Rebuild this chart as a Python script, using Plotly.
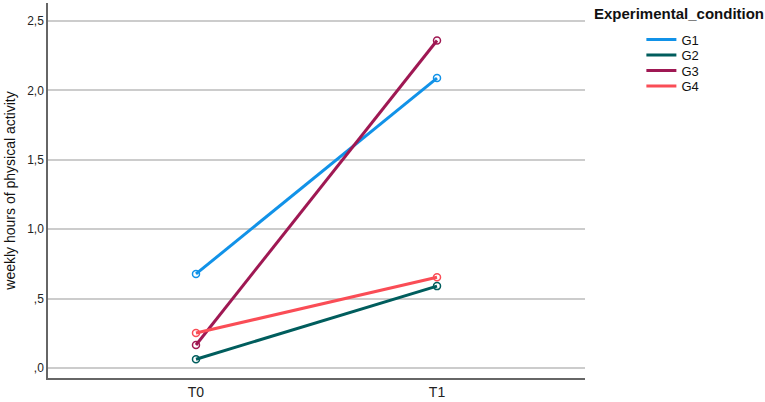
import plotly.graph_objects as go

times = ["T0", "T1"]
groups = ["G1", "G2", "G3", "G4"]
g1 = [0.678, 2.089]
g2 = [0.063, 0.590]
g3 = [0.166, 2.360]
g4 = [0.252, 0.654]
colors = ["#1192e8", "#005d5d", "#9f1853", "#fa4d56"]
tick_vals = [0, 0.5, 1.0, 1.5, 2.0, 2.5]
tick_text = [",0", ",5", "1,0", "1,5", "2,0", "2,5"]

series = [g1, g2, g3, g4]
legend_ids = ["legend", "legend2", "legend3", "legend4"]
fig = go.Figure()
for name, vals, c, lid in zip(groups, series, colors, legend_ids):
    fig.add_trace(go.Scatter(x=[0, 1], y=vals, mode="lines", name=name,
                             line=dict(color=c, width=3), legendgroup=name, legend=lid))
for name, vals, c in zip(groups, series, colors):
    fig.add_trace(go.Scatter(x=[0, 1], y=vals, mode="markers", name=name,
                             showlegend=False, legendgroup=name,
                             marker=dict(symbol="circle-open", size=7, color=c,
                                         line=dict(width=1.5, color=c))))

plot_top, plot_h = 3, 375
row_px = [39.5, 55, 70.5, 86]
legend_layout = {}
for lid, p in zip(legend_ids, row_px):
    legend_layout[lid] = dict(x=1.105, y=1 - (p - plot_top) / plot_h, xanchor="left",
                              yanchor="middle", font=dict(size=13, color="#111"),
                              itemwidth=30, bgcolor="rgba(0,0,0,0)")

fig.update_layout(
    width=765, height=402,
    margin=dict(l=48, r=180, t=3, b=24, autoexpand=False),
    paper_bgcolor="white", plot_bgcolor="white",
    font=dict(family="Liberation Sans, Arial, sans-serif", size=12, color="#222"),
    showlegend=True,
    annotations=[dict(text="<b>Experimental_condition</b>", xref="paper", yref="paper",
                      x=1.0125, y=1.0, xanchor="left", yanchor="top", showarrow=False,
                      font=dict(size=15, color="#111"))],
    **legend_layout,
)
fig.update_xaxes(range=[-0.614, 1.614], tickvals=[0, 1], ticktext=times,
                 showgrid=False, zeroline=False, showline=True, linecolor="#666",
                 linewidth=1.5, ticks="", tickfont=dict(size=14, color="#222"),
                 automargin=False)
fig.update_yaxes(range=[-0.072, 2.63], tickvals=tick_vals, ticktext=tick_text,
                 showgrid=True, gridcolor="#cccccc", gridwidth=1.5, zeroline=False,
                 showline=True, linecolor="#666", linewidth=1.5, ticks="",
                 tickfont=dict(size=12, color="#222"), automargin=False,
                 title=dict(text="weekly hours of physical activity", font=dict(size=14, color="#111"),
                            standoff=8))
fig.write_html("out.html", config={"displayModeBar": False},
               post_script="document.body.style.margin='0';")
